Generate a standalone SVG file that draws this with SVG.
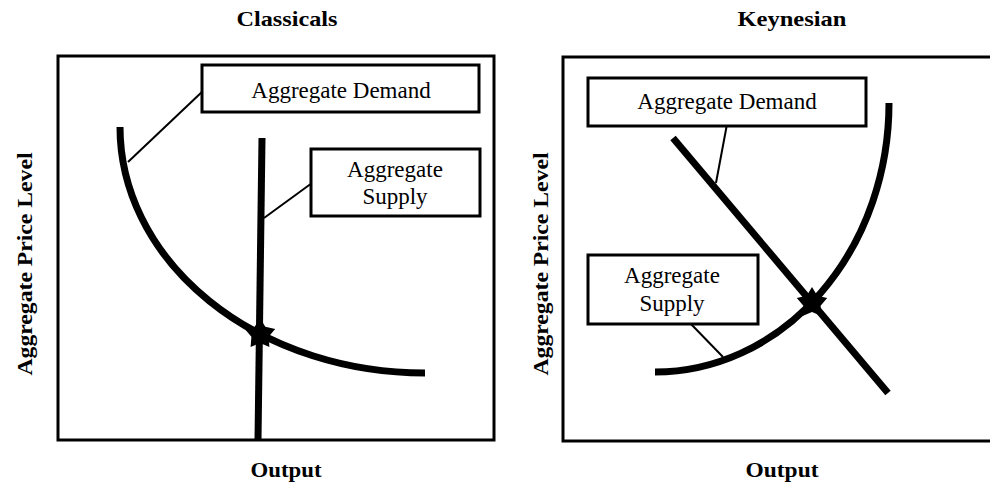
<svg xmlns="http://www.w3.org/2000/svg" xmlns:xlink="http://www.w3.org/1999/xlink" width="990" height="483" viewBox="0 0 990 483">
<style>
.frame{fill:none;stroke:#000;stroke-width:3}
.box{fill:#fff;stroke:#000;stroke-width:3}
.curve{fill:none;stroke:#000;stroke-width:7}
.leader{fill:none;stroke:#000;stroke-width:2}
.bold{font-family:"Liberation Serif","Times New Roman",serif;font-weight:bold;font-size:22px;fill:#000}
.lbl{font-family:"Liberation Serif","Times New Roman",serif;font-size:23px;fill:#000}
</style>
<defs>
<path id="star" d="M0,-16 L5.3,-7.3 L15.2,-4.9 L8.6,2.8 L9.4,12.9 L0,9 L-9.4,12.9 L-8.6,2.8 L-15.2,-4.9 L-5.3,-7.3 Z" fill="#000"/>
</defs>
<rect width="990" height="483" fill="#fff"/>

<text class="bold" x="287" y="26" text-anchor="middle" textLength="101" lengthAdjust="spacingAndGlyphs">Classicals</text>
<text class="bold" x="792" y="26" text-anchor="middle" textLength="109" lengthAdjust="spacingAndGlyphs">Keynesian</text>
<text class="bold" x="286" y="477" text-anchor="middle" textLength="71" lengthAdjust="spacingAndGlyphs">Output</text>
<text class="bold" x="782" y="477" text-anchor="middle" textLength="73" lengthAdjust="spacingAndGlyphs">Output</text>
<text class="bold" transform="translate(32,264) rotate(-90)" text-anchor="middle" textLength="223" lengthAdjust="spacingAndGlyphs">Aggregate Price Level</text>
<text class="bold" transform="translate(548,264) rotate(-90)" text-anchor="middle" textLength="223" lengthAdjust="spacingAndGlyphs">Aggregate Price Level</text>

<rect class="frame" x="58" y="56" width="436" height="384"/>
<rect class="frame" x="563" y="57" width="440" height="384"/>

<g id="connectors">
<path class="curve" d="M120,127 A305,246 0 0 0 425,373"/>
<path class="curve" d="M262,138 L258,440"/>
<path class="leader" d="M204,90 L128,162"/>
<path class="leader" d="M312,183 L264,218"/>
<path class="curve" d="M673,138 L888,393"/>
<path class="curve" d="M889,103 A234,269 0 0 1 655,372"/>
<path class="leader" d="M727,124 L716,183"/>
<path class="leader" d="M690,323 L723,357"/>
</g>

<g id="eq-classical"><use xlink:href="#star" x="260" y="334"/></g>
<g id="eq-keynesian"><use xlink:href="#star" x="812" y="303"/></g>

<g id="ad-classical">
<rect class="box" x="202" y="65" width="277" height="47"/>
<text class="lbl" x="341" y="98" text-anchor="middle">Aggregate Demand</text>
</g>
<g id="as-classical">
<rect class="box" x="311" y="149" width="169" height="67"/>
<text class="lbl" x="395" y="177" text-anchor="middle">Aggregate</text>
<text class="lbl" x="395" y="204" text-anchor="middle">Supply</text>
</g>
<g id="ad-keynesian">
<rect class="box" x="588" y="78" width="278" height="48"/>
<text class="lbl" x="727" y="109" text-anchor="middle">Aggregate Demand</text>
</g>
<g id="as-keynesian">
<rect class="box" x="588" y="255" width="170" height="69"/>
<text class="lbl" x="672" y="283" text-anchor="middle">Aggregate</text>
<text class="lbl" x="672" y="311" text-anchor="middle">Supply</text>
</g>
</svg>
